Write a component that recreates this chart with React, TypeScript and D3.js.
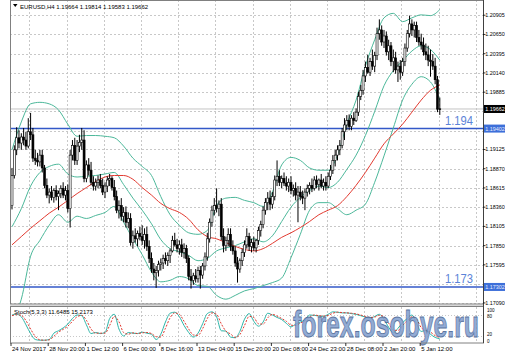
import React from "react";
import * as d3 from "d3";

// ---------- DATA ----------
// H4 candles [open, high, low, close]
const candles: [number, number, number, number][] = [
  [1.1838,1.1888,1.1833,1.1878],[1.1878,1.1918,1.1874,1.1912],[1.1912,1.1942,1.1905,1.1928],[1.1928,1.1938,1.1914,1.1921],
  [1.1921,1.1934,1.1912,1.1929],[1.1929,1.1941,1.1918,1.1925],[1.1925,1.1936,1.1912,1.1917],[1.1917,1.1954,1.1914,1.1936],
  [1.1936,1.1961,1.1925,1.1932],[1.1932,1.1941,1.1896,1.1901],[1.1901,1.1912,1.1892,1.1898],[1.1898,1.1908,1.1890,1.1896],
  [1.1896,1.1912,1.1890,1.1905],[1.1905,1.1912,1.1882,1.1888],[1.1888,1.1892,1.1861,1.1865],[1.1865,1.1874,1.1848,1.1852],
  [1.1852,1.1861,1.1841,1.1856],[1.1856,1.1864,1.1845,1.1849],[1.1849,1.1861,1.1842,1.1858],[1.1858,1.1865,1.1845,1.1850],
  [1.1850,1.1858,1.1832,1.1854],[1.1854,1.1865,1.1848,1.1861],[1.1861,1.1869,1.1848,1.1852],[1.1852,1.1864,1.1845,1.1858],
  [1.1858,1.1866,1.1829,1.1834],[1.1834,1.1912,1.1809,1.1905],[1.1905,1.1925,1.1898,1.1918],[1.1918,1.1928,1.1892,1.1898],
  [1.1898,1.1925,1.1892,1.1917],[1.1917,1.1932,1.1909,1.1922],[1.1922,1.1941,1.1912,1.1925],[1.1925,1.1938,1.1869,1.1874],
  [1.1874,1.1898,1.1869,1.1892],[1.1892,1.1901,1.1878,1.1885],[1.1885,1.1896,1.1865,1.1869],[1.1869,1.1877,1.1858,1.1864],
  [1.1864,1.1874,1.1858,1.1869],[1.1869,1.1878,1.1861,1.1872],[1.1872,1.1880,1.1861,1.1865],[1.1865,1.1874,1.1852,1.1856],
  [1.1856,1.1869,1.1848,1.1864],[1.1864,1.1877,1.1856,1.1872],[1.1872,1.1880,1.1864,1.1874],[1.1874,1.1877,1.1858,1.1862],
  [1.1862,1.1872,1.1845,1.1850],[1.1850,1.1858,1.1828,1.1832],[1.1832,1.1845,1.1821,1.1838],[1.1838,1.1848,1.1818,1.1824],
  [1.1824,1.1836,1.1816,1.1829],[1.1829,1.1837,1.1809,1.1816],[1.1816,1.1829,1.1808,1.1821],[1.1821,1.1828,1.1785,1.1789],
  [1.1789,1.1805,1.1781,1.1798],[1.1798,1.1808,1.1789,1.1794],[1.1794,1.1805,1.1784,1.1801],[1.1801,1.1810,1.1792,1.1797],
  [1.1797,1.1812,1.1786,1.1792],[1.1792,1.1808,1.1781,1.1800],[1.1800,1.1810,1.1778,1.1784],[1.1784,1.1792,1.1762,1.1768],
  [1.1768,1.1776,1.1749,1.1754],[1.1754,1.1762,1.1739,1.1749],[1.1749,1.1758,1.1729,1.1752],[1.1752,1.1765,1.1744,1.1760],
  [1.1760,1.1768,1.1752,1.1762],[1.1762,1.1773,1.1754,1.1768],[1.1768,1.1776,1.1760,1.1765],[1.1765,1.1776,1.1758,1.1772],
  [1.1772,1.1781,1.1762,1.1778],[1.1778,1.1798,1.1776,1.1792],[1.1792,1.1802,1.1784,1.1786],[1.1786,1.1794,1.1776,1.1781],
  [1.1781,1.1792,1.1773,1.1786],[1.1786,1.1794,1.1770,1.1776],[1.1776,1.1788,1.1768,1.1781],[1.1781,1.1786,1.1762,1.1768],
  [1.1768,1.1772,1.1739,1.1744],[1.1744,1.1754,1.1728,1.1739],[1.1739,1.1749,1.1733,1.1745],[1.1745,1.1754,1.1736,1.1741],
  [1.1741,1.1757,1.1736,1.1752],[1.1752,1.1758,1.1728,1.1746],[1.1746,1.1762,1.1741,1.1758],[1.1758,1.1776,1.1752,1.1770],
  [1.1770,1.1802,1.1765,1.1794],[1.1794,1.1821,1.1789,1.1816],[1.1816,1.1838,1.1810,1.1832],[1.1832,1.1848,1.1825,1.1838],
  [1.1838,1.1861,1.1829,1.1834],[1.1834,1.1845,1.1824,1.1840],[1.1840,1.1848,1.1792,1.1797],[1.1797,1.1808,1.1776,1.1785],
  [1.1785,1.1797,1.1778,1.1792],[1.1792,1.1808,1.1784,1.1800],[1.1800,1.1808,1.1778,1.1784],[1.1784,1.1792,1.1773,1.1778],
  [1.1778,1.1784,1.1757,1.1762],[1.1762,1.1770,1.1736,1.1754],[1.1754,1.1768,1.1749,1.1765],[1.1765,1.1781,1.1758,1.1776],
  [1.1776,1.1792,1.1770,1.1786],[1.1786,1.1808,1.1781,1.1797],[1.1797,1.1802,1.1778,1.1784],[1.1784,1.1794,1.1776,1.1789],
  [1.1789,1.1797,1.1778,1.1782],[1.1782,1.1794,1.1776,1.1792],[1.1792,1.1810,1.1786,1.1805],[1.1805,1.1818,1.1797,1.1813],
  [1.1813,1.1837,1.1808,1.1832],[1.1832,1.1848,1.1826,1.1842],[1.1842,1.1856,1.1832,1.1848],[1.1848,1.1858,1.1832,1.1840],
  [1.1840,1.1856,1.1834,1.1850],[1.1850,1.1878,1.1845,1.1872],[1.1872,1.1898,1.1864,1.1877],[1.1877,1.1885,1.1864,1.1869],
  [1.1869,1.1878,1.1861,1.1874],[1.1874,1.1882,1.1864,1.1868],[1.1868,1.1877,1.1858,1.1864],[1.1864,1.1874,1.1856,1.1869],
  [1.1869,1.1877,1.1853,1.1858],[1.1858,1.1866,1.1850,1.1861],[1.1861,1.1869,1.1845,1.1852],[1.1852,1.1864,1.1816,1.1856],
  [1.1856,1.1864,1.1845,1.1850],[1.1850,1.1858,1.1840,1.1848],[1.1848,1.1861,1.1832,1.1856],[1.1856,1.1866,1.1850,1.1861],
  [1.1861,1.1869,1.1853,1.1865],[1.1865,1.1874,1.1856,1.1861],[1.1861,1.1877,1.1858,1.1872],[1.1872,1.1878,1.1861,1.1866],
  [1.1866,1.1874,1.1858,1.1872],[1.1872,1.1880,1.1861,1.1864],[1.1864,1.1874,1.1858,1.1869],[1.1869,1.1877,1.1858,1.1864],
  [1.1864,1.1882,1.1861,1.1877],[1.1877,1.1892,1.1872,1.1885],[1.1885,1.1905,1.1880,1.1898],[1.1898,1.1912,1.1890,1.1905],
  [1.1905,1.1918,1.1898,1.1912],[1.1912,1.1925,1.1905,1.1918],[1.1918,1.1941,1.1914,1.1936],[1.1936,1.1954,1.1925,1.1945],
  [1.1945,1.1958,1.1938,1.1951],[1.1951,1.1959,1.1938,1.1943],[1.1943,1.1958,1.1938,1.1954],[1.1954,1.1962,1.1945,1.1951],
  [1.1951,1.1967,1.1949,1.1962],[1.1962,1.1989,1.1957,1.1983],[1.1983,1.1998,1.1978,1.1991],[1.1991,1.2018,1.1985,1.2010],
  [1.2010,1.2029,1.2002,1.2021],[1.2021,1.2038,1.2013,1.2015],[1.2015,1.2034,1.2010,1.2029],[1.2029,1.2045,1.2018,1.2023],
  [1.2023,1.2042,1.2015,1.2037],[1.2037,1.2074,1.2031,1.2066],[1.2066,1.2085,1.2058,1.2071],[1.2071,1.2077,1.2050,1.2055],
  [1.2055,1.2071,1.2047,1.2063],[1.2063,1.2069,1.2037,1.2042],[1.2042,1.2058,1.2031,1.2050],[1.2050,1.2055,1.2023,1.2029],
  [1.2029,1.2045,1.2015,1.2034],[1.2034,1.2042,1.2013,1.2018],[1.2018,1.2029,1.2002,1.2023],[1.2023,1.2031,1.2005,1.2015],
  [1.2015,1.2034,1.2010,1.2029],[1.2029,1.2053,1.2023,1.2047],[1.2047,1.2071,1.2042,1.2066],[1.2066,1.2090,1.2061,1.2079],
  [1.2079,1.2085,1.2063,1.2071],[1.2071,1.2082,1.2061,1.2077],[1.2077,1.2082,1.2055,1.2061],[1.2061,1.2071,1.2050,1.2055],
  [1.2055,1.2066,1.2045,1.2051],[1.2051,1.2061,1.2037,1.2042],[1.2042,1.2053,1.2031,1.2038],[1.2038,1.2050,1.2023,1.2031],
  [1.2031,1.2045,1.2009,1.2029],[1.2029,1.2039,1.2018,1.2023],[1.2023,1.2034,1.1999,1.2005],[1.2005,1.2010,1.1962,1.1966],
  [1.19664,1.19814,1.19583,1.19662],
];

// Bollinger bands (20, 2) and red moving average, read every 4 bars
const bandStep = 4;
const upperBand = [1.1912,1.1949,1.1973,1.1975,1.1973,1.1965,1.1946,1.1930,1.1931,1.1931,1.1930,1.1928,1.1917,1.1901,1.1890,1.1878,1.1850,1.1826,1.1812,1.1802,1.1800,1.1805,1.1838,1.1848,1.1849,1.1845,1.1842,1.1837,1.1856,1.1892,1.1902,1.1898,1.1888,1.1885,1.1885,1.1905,1.1946,1.1978,1.2023,1.2058,1.2087,1.2093,1.2082,1.2087,1.2091,1.2090,1.2098];
const middleBand = [1.1810,1.1834,1.1864,1.1882,1.1890,1.1893,1.1880,1.1876,1.1877,1.1878,1.1880,1.1882,1.1866,1.1848,1.1832,1.1814,1.1793,1.1781,1.1777,1.1772,1.1765,1.1768,1.1778,1.1782,1.1785,1.1790,1.1794,1.1790,1.1798,1.1817,1.1836,1.1849,1.1858,1.1864,1.1862,1.1869,1.1886,1.1905,1.1931,1.1963,1.1997,1.2017,1.2030,1.2043,1.2050,1.2045,1.2031];
const lowerBand = [1.1685,1.1714,1.1771,1.1792,1.1812,1.1826,1.1816,1.1824,1.1821,1.1825,1.1829,1.1837,1.1816,1.1794,1.1773,1.1750,1.1737,1.1739,1.1744,1.1741,1.1732,1.1731,1.1719,1.1714,1.1719,1.1725,1.1728,1.1732,1.1736,1.1742,1.1769,1.1800,1.1832,1.1842,1.1842,1.1834,1.1826,1.1832,1.1840,1.1869,1.1904,1.1941,1.1978,1.1999,1.2009,1.2002,1.1978];
const movingAvg = [1.1786,1.1797,1.1808,1.1818,1.1828,1.1836,1.1845,1.1854,1.1862,1.1870,1.1876,1.1878,1.1878,1.1873,1.1862,1.1852,1.1841,1.1834,1.1829,1.1820,1.1806,1.1797,1.1794,1.1789,1.1784,1.1780,1.1778,1.1781,1.1788,1.1796,1.1802,1.1809,1.1817,1.1826,1.1832,1.1838,1.1850,1.1865,1.1882,1.1901,1.1920,1.1933,1.1946,1.1962,1.1978,1.1991,1.1998];

// Stochastic (5,3,3), read every 2 bars
const stochStep = 2;
const stochMain = [80,82,75,52,27,10,8,8,10,28,35,43,54,70,80,78,52,27,30,27,30,70,82,40,20,30,28,27,31,28,25,10,25,60,85,88,75,50,30,17,28,55,84,89,75,35,34,17,15,33,68,84,62,48,60,85,80,73,67,56,46,54,60,66,80,79,77,76,82,89,88,86,86,84,82,78,74,71,76,82,68,45,29,42,58,70,80,55,33,36,25,16,11.65];
const stochSignal = [78,81,79,64,40,19,9,8,9,19,31,39,48,62,75,79,65,40,28,28,28,50,76,61,30,25,29,27,29,30,27,18,17,42,72,86,82,62,40,23,22,41,70,86,82,55,34,26,16,24,50,76,73,55,54,72,82,77,70,62,51,50,57,63,73,80,78,77,79,85,88,87,86,85,83,80,76,73,74,79,75,57,37,36,50,64,75,68,44,35,31,21,15.22];

const priceTicks = [1.20905,1.20650,1.20395,1.20140,1.19885,1.19630,1.19375,1.19125,1.18870,1.18615,1.18360,1.18105,1.17850,1.17595,1.17340,1.17090];
const dateLabels = ["24 Nov 2017","28 Nov 20:00","1 Dec 12:00","6 Dec 00:00","8 Dec 16:00","13 Dec 04:00","15 Dec 20:00","20 Dec 08:00","24 Dec 23:00","28 Dec 08:00","2 Jan 20:00","5 Jan 12:00"];
const dateBarStep = 16;
const levelValues = [1.19402, 1.17302];
const levelTexts = ["1.194", "1.173"];
const stochLevels = [100, 80, 20, 0];
const title = "EURUSD,H4  1.19664 1.19814 1.19583 1.19662";
const stochTitle = "Stoch(5,3,3) 11.6485 15.2173";

const FONT = "'Liberation Sans', Arial, sans-serif";

export default function App() {
  const W = 505, H = 352;
  const left = 10, right = 483, mainTop = 0, mainBottom = 304;
  const stTop = 307, stBottom = 343;
  const n = candles.length;
  const x = d3.scaleLinear().domain([0, n - 1]).range([12, 12 + (n - 1) * 2.325]);
  const y = d3.scaleLinear().domain([1.17076, 1.21107]).range([mainBottom, mainTop]);
  const ys = d3.scaleLinear().domain([0, 100]).range([stBottom, stTop + 1]);

  const bandLine = (vals: number[]) =>
    d3.line<number>().x((_, i) => x(i * bandStep)).y((v) => y(v)).curve(d3.curveMonotoneX)(vals) || "";
  const stLine = (vals: number[]) =>
    d3.line<number>().x((_, i) => x(i * stochStep)).y((v) => ys(v)).curve(d3.curveMonotoneX)(vals) || "";

  const lastClose = candles[n - 1][3];
  const boxes = [{ v: lastClose, fill: "#000", text: "#fff" }, ...levelValues.map((v) => ({ v, fill: "#3d6fd9", text: "#e8eeff" }))];
  const visibleTicks = priceTicks.filter((t) => boxes.every((b) => Math.abs(y(t) - y(b.v)) > 6.5));

  const gridXs = d3.range(0, 13).map((k) => x(k * dateBarStep + 7.5));
  const fmt = (v: number) => v.toFixed(5);
  const stochLabelY = [311.5, 318, 336, 342.5];

  return (
    <div style={{ position: "absolute", left: 0, top: 0, width: W, height: H, background: "#fff" }}>
      <svg width={W} height={H} style={{ display: "block" }} fontFamily={FONT}>
        <defs>
          <clipPath id="mainClip"><rect x={left} y={mainTop} width={right - left} height={mainBottom - mainTop} /></clipPath>
          <clipPath id="stClip"><rect x={left} y={stTop} width={right - left} height={stBottom - stTop} /></clipPath>
        </defs>
        <rect width={W} height={H} fill="#fff" />

        <g stroke="#c8c8c8" strokeWidth={1} strokeDasharray="2,2">
          {priceTicks.map((t) => (
            <line key={t} x1={left} x2={right} y1={Math.round(y(t)) + 0.5} y2={Math.round(y(t)) + 0.5} />
          ))}
          {gridXs.map((gx, i) => (
            <line key={i} x1={Math.round(gx) + 0.5} x2={Math.round(gx) + 0.5} y1={mainTop} y2={mainBottom} />
          ))}
          {gridXs.map((gx, i) => (
            <line key={"s" + i} x1={Math.round(gx) + 0.5} x2={Math.round(gx) + 0.5} y1={stTop} y2={stBottom} />
          ))}
        </g>
        <g stroke="#c8c8c8" strokeWidth={1} strokeDasharray="1,2">
          {[80, 20].map((lv) => (
            <line key={lv} x1={left} x2={right} y1={Math.round(ys(lv)) + 0.5} y2={Math.round(ys(lv)) + 0.5} />
          ))}
        </g>

        <line x1={left} x2={right} y1={y(lastClose)} y2={y(lastClose)} stroke="#c4c4c4" strokeWidth={1} />

        <g clipPath="url(#mainClip)">
          {levelValues.map((v) => (
            <line key={v} x1={left} x2={right} y1={y(v)} y2={y(v)} stroke="#3358c8" strokeWidth={1.5} />
          ))}
          <path d={bandLine(upperBand)} fill="none" stroke="#4cb89a" strokeWidth={1} />
          <path d={bandLine(middleBand)} fill="none" stroke="#4cb89a" strokeWidth={1} />
          <path d={bandLine(lowerBand)} fill="none" stroke="#4cb89a" strokeWidth={1} />
          <path d={bandLine(movingAvg)} fill="none" stroke="#e23a30" strokeWidth={1} />
          {candles.map(([o, h, l, c], i) => {
            const cx = x(i);
            const bull = c >= o;
            const top = y(Math.max(o, c));
            const bot = y(Math.min(o, c));
            return (
              <g key={i}>
                <line x1={cx} x2={cx} y1={y(h)} y2={y(l)} stroke="#000" strokeWidth={1} />
                <rect x={cx - 1} y={top} width={2} height={Math.max(bot - top, 0.8)}
                  fill={bull ? "#fff" : "#000"} stroke="#000" strokeWidth={0.6} />
              </g>
            );
          })}
          {levelValues.map((v, i) => (
            <text key={v} x={445} y={y(v) - 4} fontSize={13} fill="#5b83d8" textLength={28} lengthAdjust="spacingAndGlyphs">
              {levelTexts[i]}
            </text>
          ))}
        </g>

        <g clipPath="url(#stClip)">
          <path d={stLine(stochMain)} fill="none" stroke="#2cb5a8" strokeWidth={1} />
          <path d={stLine(stochSignal)} fill="none" stroke="#e23a30" strokeWidth={1} strokeDasharray="2,1.5" />
        </g>

        <g transform="translate(293,337) scale(1,1.5)">
          <text x={0} y={0} fontSize={25} fontWeight="bold" fill="#87a2d0" stroke="#4a6796" strokeWidth={0.6}
            textLength={186} lengthAdjust="spacingAndGlyphs" opacity={0.9}>
            forex.osobye.ru
          </text>
        </g>

        <rect x={left + 0.5} y={mainTop + 0.5} width={right - left} height={mainBottom - mainTop - 0.5} fill="none" stroke="#808080" strokeWidth={1} />
        <rect x={left + 0.5} y={stTop - 0.5} width={right - left} height={stBottom - stTop + 0.5} fill="none" stroke="#808080" strokeWidth={1} />
        <line x1={left} x2={right + 1} y1={mainBottom + 1} y2={mainBottom + 1} stroke="#b0b0b0" strokeWidth={1} />
        <line x1={right + 0.5} x2={right + 0.5} y1={0} y2={stBottom} stroke="#404040" strokeWidth={1} />

        <path d="M13,4 L17.5,4 L15.25,7 Z" fill="#000" />
        <text x={20} y={8.5} fontSize={6} fill="#000">{title}</text>
        <text x={14} y={314} fontSize={6} fill="#000">{stochTitle}</text>

        <g fontSize={5.4} fill="#000">
          {visibleTicks.map((t) => (
            <g key={t}>
              <line x1={right} x2={right + 2.5} y1={y(t)} y2={y(t)} stroke="#000" strokeWidth={0.8} />
              <text x={485.3} y={y(t) + 2}>{fmt(t)}</text>
            </g>
          ))}
          {boxes.map((b) => (
            <g key={b.v}>
              <rect x={484} y={y(b.v) - 4} width={21} height={8} fill={b.fill} />
              <text x={485.3} y={y(b.v) + 2} fill={b.text}>{fmt(b.v)}</text>
            </g>
          ))}
          {stochLevels.map((lv, i) => (
            <text key={lv} x={487} y={stochLabelY[i]} fontSize={4.5}>{lv}</text>
          ))}
        </g>

        <g fontSize={6} fill="#000">
          {dateLabels.map((d, k) => {
            const lx = x(k * dateBarStep);
            return (
              <g key={d}>
                <line x1={lx - 1} x2={lx - 1} y1={stBottom} y2={stBottom + 3} stroke="#000" strokeWidth={0.8} />
                <text x={lx} y={351}>{d}</text>
              </g>
            );
          })}
        </g>
      </svg>
    </div>
  );
}
